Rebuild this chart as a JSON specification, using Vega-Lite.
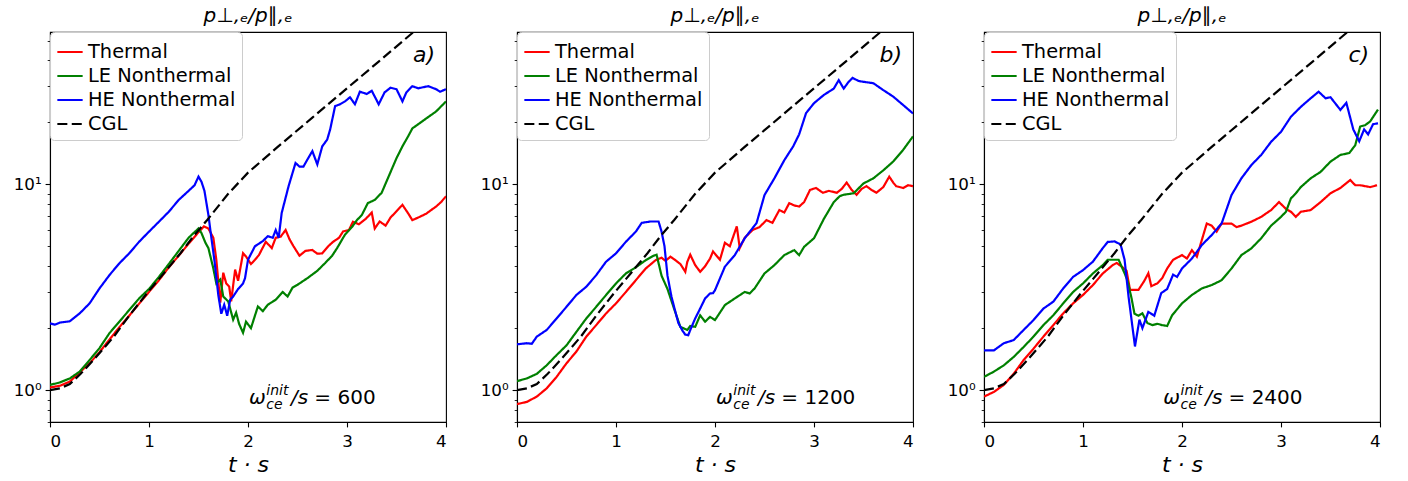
{
"$schema":"https://vega.github.io/schema/vega-lite/v6.json",
"background":"white",
"padding":{"left":12,"top":4,"right":5,"bottom":5},
"config":{
 "font":"DejaVu Sans",
 "view":{"stroke":"black","strokeWidth":1.1},
 "concat":{"spacing":31},
 "axis":{"domainColor":"black","domainWidth":1.1,"tickColor":"black","tickWidth":1.1,"tickSize":4.9,"labelColor":"black","labelFont":"DejaVu Sans","labelFontSize":16.7,"labelPadding":4,"grid":false,"titleFont":"DejaVu Sans","titleFontWeight":"normal","titleColor":"black"},
 "legend":{"orient":"top-left","offset":0,"padding":6,"rowPadding":0,"labelFont":"DejaVu Sans","labelFontSize":19.4,"labelColor":"black","symbolType":"stroke","symbolSize":640,"symbolStrokeWidth":2.2,"labelOffset":4,"strokeColor":"#cccccc","fillColor":"rgba(255,255,255,0.8)","cornerRadius":4,"labelLimit":400},
 "title":{"font":"DejaVu Sans","fontSize":20,"fontStyle":"italic","fontWeight":"normal","color":"black","offset":6}
},
"resolve":{"scale":{"color":"independent","strokeDash":"independent"},"legend":{"color":"independent","strokeDash":"independent"}},
"datasets":{
"notes":[
{"panel":"a","kind":"it","t":2.01,"v":0.855,"label":"ω"},
{"panel":"a","kind":"sub","t":2.185,"v":0.952,"label":"init"},
{"panel":"a","kind":"sub","t":2.185,"v":0.808,"label":"ce"},
{"panel":"a","kind":"it","t":2.434,"v":0.855,"label":"/s"},
{"panel":"a","kind":"num","t":2.67,"v":0.855,"label":"= 600"},
{"panel":"a","kind":"tag","t":3.89,"v":39.5,"label":"a)"},
{"panel":"b","kind":"it","t":2.01,"v":0.855,"label":"ω"},
{"panel":"b","kind":"sub","t":2.185,"v":0.952,"label":"init"},
{"panel":"b","kind":"sub","t":2.185,"v":0.808,"label":"ce"},
{"panel":"b","kind":"it","t":2.434,"v":0.855,"label":"/s"},
{"panel":"b","kind":"num","t":2.67,"v":0.855,"label":"= 1200"},
{"panel":"b","kind":"tag","t":3.89,"v":39.5,"label":"b)"},
{"panel":"c","kind":"it","t":1.81,"v":0.855,"label":"ω"},
{"panel":"c","kind":"sub","t":1.985,"v":0.952,"label":"init"},
{"panel":"c","kind":"sub","t":1.985,"v":0.808,"label":"ce"},
{"panel":"c","kind":"it","t":2.234,"v":0.855,"label":"/s"},
{"panel":"c","kind":"num","t":2.47,"v":0.855,"label":"= 2400"},
{"panel":"c","kind":"tag","t":3.89,"v":39.5,"label":"c)"}
],
"curves":[
{"panel":"a","series":"Thermal","t":0,"v":1.03},{"panel":"a","series":"Thermal","t":0.1,"v":1.05},{"panel":"a","series":"Thermal","t":0.2,"v":1.1},{"panel":"a","series":"Thermal","t":0.3,"v":1.22},{"panel":"a","series":"Thermal","t":0.4,"v":1.35},{"panel":"a","series":"Thermal","t":0.5,"v":1.53},{"panel":"a","series":"Thermal","t":0.6,"v":1.76},{"panel":"a","series":"Thermal","t":0.7,"v":2.02},{"panel":"a","series":"Thermal","t":0.8,"v":2.3},{"panel":"a","series":"Thermal","t":0.9,"v":2.63},{"panel":"a","series":"Thermal","t":1.0,"v":3.0},{"panel":"a","series":"Thermal","t":1.1,"v":3.42},{"panel":"a","series":"Thermal","t":1.2,"v":3.95},{"panel":"a","series":"Thermal","t":1.3,"v":4.5},{"panel":"a","series":"Thermal","t":1.4,"v":5.15},{"panel":"a","series":"Thermal","t":1.5,"v":5.85},{"panel":"a","series":"Thermal","t":1.555,"v":6.25},{"panel":"a","series":"Thermal","t":1.6,"v":6.1},{"panel":"a","series":"Thermal","t":1.65,"v":5.5},{"panel":"a","series":"Thermal","t":1.68,"v":4.3},{"panel":"a","series":"Thermal","t":1.72,"v":2.66},{"panel":"a","series":"Thermal","t":1.75,"v":3.72},{"panel":"a","series":"Thermal","t":1.78,"v":3.3},{"panel":"a","series":"Thermal","t":1.81,"v":3.19},{"panel":"a","series":"Thermal","t":1.83,"v":2.7},{"panel":"a","series":"Thermal","t":1.87,"v":3.85},{"panel":"a","series":"Thermal","t":1.9,"v":3.4},{"panel":"a","series":"Thermal","t":1.95,"v":4.63},{"panel":"a","series":"Thermal","t":1.98,"v":4.46},{"panel":"a","series":"Thermal","t":2.03,"v":4.1},{"panel":"a","series":"Thermal","t":2.07,"v":4.3},{"panel":"a","series":"Thermal","t":2.11,"v":4.53},{"panel":"a","series":"Thermal","t":2.18,"v":5.26},{"panel":"a","series":"Thermal","t":2.24,"v":4.9},{"panel":"a","series":"Thermal","t":2.28,"v":5.5},{"panel":"a","series":"Thermal","t":2.33,"v":5.57},{"panel":"a","series":"Thermal","t":2.38,"v":6.0},{"panel":"a","series":"Thermal","t":2.42,"v":5.4},{"panel":"a","series":"Thermal","t":2.46,"v":5.0},{"panel":"a","series":"Thermal","t":2.52,"v":4.5},{"panel":"a","series":"Thermal","t":2.58,"v":4.75},{"panel":"a","series":"Thermal","t":2.65,"v":4.8},{"panel":"a","series":"Thermal","t":2.7,"v":4.6},{"panel":"a","series":"Thermal","t":2.75,"v":4.62},{"panel":"a","series":"Thermal","t":2.81,"v":5.0},{"panel":"a","series":"Thermal","t":2.86,"v":5.26},{"panel":"a","series":"Thermal","t":2.92,"v":5.5},{"panel":"a","series":"Thermal","t":2.96,"v":5.9},{"panel":"a","series":"Thermal","t":3.02,"v":6.0},{"panel":"a","series":"Thermal","t":3.06,"v":6.58},{"panel":"a","series":"Thermal","t":3.12,"v":6.4},{"panel":"a","series":"Thermal","t":3.19,"v":6.8},{"panel":"a","series":"Thermal","t":3.25,"v":7.3},{"panel":"a","series":"Thermal","t":3.28,"v":6.1},{"panel":"a","series":"Thermal","t":3.33,"v":6.6},{"panel":"a","series":"Thermal","t":3.39,"v":6.3},{"panel":"a","series":"Thermal","t":3.44,"v":6.9},{"panel":"a","series":"Thermal","t":3.5,"v":7.4},{"panel":"a","series":"Thermal","t":3.56,"v":7.95},{"panel":"a","series":"Thermal","t":3.62,"v":7.2},{"panel":"a","series":"Thermal","t":3.66,"v":6.7},{"panel":"a","series":"Thermal","t":3.72,"v":6.9},{"panel":"a","series":"Thermal","t":3.8,"v":7.2},{"panel":"a","series":"Thermal","t":3.85,"v":7.5},{"panel":"a","series":"Thermal","t":3.9,"v":7.8},{"panel":"a","series":"Thermal","t":3.95,"v":8.2},{"panel":"a","series":"Thermal","t":4.0,"v":8.75},
{"panel":"a","series":"LE Nonthermal","t":0,"v":1.06},{"panel":"a","series":"LE Nonthermal","t":0.1,"v":1.09},{"panel":"a","series":"LE Nonthermal","t":0.2,"v":1.14},{"panel":"a","series":"LE Nonthermal","t":0.3,"v":1.23},{"panel":"a","series":"LE Nonthermal","t":0.4,"v":1.4},{"panel":"a","series":"LE Nonthermal","t":0.5,"v":1.6},{"panel":"a","series":"LE Nonthermal","t":0.6,"v":1.89},{"panel":"a","series":"LE Nonthermal","t":0.7,"v":2.15},{"panel":"a","series":"LE Nonthermal","t":0.8,"v":2.45},{"panel":"a","series":"LE Nonthermal","t":0.9,"v":2.79},{"panel":"a","series":"LE Nonthermal","t":1.0,"v":3.1},{"panel":"a","series":"LE Nonthermal","t":1.1,"v":3.55},{"panel":"a","series":"LE Nonthermal","t":1.2,"v":4.1},{"panel":"a","series":"LE Nonthermal","t":1.3,"v":4.75},{"panel":"a","series":"LE Nonthermal","t":1.4,"v":5.5},{"panel":"a","series":"LE Nonthermal","t":1.45,"v":5.8},{"panel":"a","series":"LE Nonthermal","t":1.5,"v":6.1},{"panel":"a","series":"LE Nonthermal","t":1.53,"v":5.8},{"panel":"a","series":"LE Nonthermal","t":1.57,"v":5.2},{"panel":"a","series":"LE Nonthermal","t":1.6,"v":4.9},{"panel":"a","series":"LE Nonthermal","t":1.65,"v":3.9},{"panel":"a","series":"LE Nonthermal","t":1.68,"v":3.3},{"panel":"a","series":"LE Nonthermal","t":1.72,"v":3.45},{"panel":"a","series":"LE Nonthermal","t":1.75,"v":2.85},{"panel":"a","series":"LE Nonthermal","t":1.8,"v":2.7},{"panel":"a","series":"LE Nonthermal","t":1.85,"v":2.2},{"panel":"a","series":"LE Nonthermal","t":1.88,"v":2.38},{"panel":"a","series":"LE Nonthermal","t":1.91,"v":2.1},{"panel":"a","series":"LE Nonthermal","t":1.95,"v":1.9},{"panel":"a","series":"LE Nonthermal","t":1.98,"v":2.15},{"panel":"a","series":"LE Nonthermal","t":2.03,"v":2.0},{"panel":"a","series":"LE Nonthermal","t":2.07,"v":2.3},{"panel":"a","series":"LE Nonthermal","t":2.1,"v":2.55},{"panel":"a","series":"LE Nonthermal","t":2.15,"v":2.42},{"panel":"a","series":"LE Nonthermal","t":2.2,"v":2.6},{"panel":"a","series":"LE Nonthermal","t":2.28,"v":2.75},{"panel":"a","series":"LE Nonthermal","t":2.35,"v":3.0},{"panel":"a","series":"LE Nonthermal","t":2.4,"v":2.85},{"panel":"a","series":"LE Nonthermal","t":2.45,"v":3.15},{"panel":"a","series":"LE Nonthermal","t":2.5,"v":3.25},{"panel":"a","series":"LE Nonthermal","t":2.6,"v":3.5},{"panel":"a","series":"LE Nonthermal","t":2.7,"v":3.8},{"panel":"a","series":"LE Nonthermal","t":2.78,"v":4.15},{"panel":"a","series":"LE Nonthermal","t":2.85,"v":4.5},{"panel":"a","series":"LE Nonthermal","t":2.9,"v":4.9},{"panel":"a","series":"LE Nonthermal","t":2.98,"v":5.7},{"panel":"a","series":"LE Nonthermal","t":3.05,"v":6.2},{"panel":"a","series":"LE Nonthermal","t":3.1,"v":6.7},{"panel":"a","series":"LE Nonthermal","t":3.15,"v":7.1},{"panel":"a","series":"LE Nonthermal","t":3.21,"v":8.1},{"panel":"a","series":"LE Nonthermal","t":3.28,"v":8.4},{"panel":"a","series":"LE Nonthermal","t":3.35,"v":9.1},{"panel":"a","series":"LE Nonthermal","t":3.42,"v":10.9},{"panel":"a","series":"LE Nonthermal","t":3.5,"v":13.4},{"panel":"a","series":"LE Nonthermal","t":3.56,"v":15.3},{"panel":"a","series":"LE Nonthermal","t":3.62,"v":17.2},{"panel":"a","series":"LE Nonthermal","t":3.66,"v":18.7},{"panel":"a","series":"LE Nonthermal","t":3.72,"v":19.6},{"panel":"a","series":"LE Nonthermal","t":3.8,"v":20.9},{"panel":"a","series":"LE Nonthermal","t":3.9,"v":22.6},{"panel":"a","series":"LE Nonthermal","t":4.0,"v":25.3},
{"panel":"a","series":"HE Nonthermal","t":0,"v":2.11},{"panel":"a","series":"HE Nonthermal","t":0.05,"v":2.08},{"panel":"a","series":"HE Nonthermal","t":0.1,"v":2.13},{"panel":"a","series":"HE Nonthermal","t":0.2,"v":2.16},{"panel":"a","series":"HE Nonthermal","t":0.3,"v":2.36},{"panel":"a","series":"HE Nonthermal","t":0.4,"v":2.64},{"panel":"a","series":"HE Nonthermal","t":0.5,"v":3.12},{"panel":"a","series":"HE Nonthermal","t":0.6,"v":3.62},{"panel":"a","series":"HE Nonthermal","t":0.7,"v":4.13},{"panel":"a","series":"HE Nonthermal","t":0.8,"v":4.62},{"panel":"a","series":"HE Nonthermal","t":0.9,"v":5.26},{"panel":"a","series":"HE Nonthermal","t":1.0,"v":5.89},{"panel":"a","series":"HE Nonthermal","t":1.1,"v":6.58},{"panel":"a","series":"HE Nonthermal","t":1.2,"v":7.36},{"panel":"a","series":"HE Nonthermal","t":1.3,"v":8.4},{"panel":"a","series":"HE Nonthermal","t":1.4,"v":9.3},{"panel":"a","series":"HE Nonthermal","t":1.46,"v":9.9},{"panel":"a","series":"HE Nonthermal","t":1.5,"v":10.9},{"panel":"a","series":"HE Nonthermal","t":1.53,"v":10.3},{"panel":"a","series":"HE Nonthermal","t":1.56,"v":9.3},{"panel":"a","series":"HE Nonthermal","t":1.6,"v":7.1},{"panel":"a","series":"HE Nonthermal","t":1.63,"v":5.5},{"panel":"a","series":"HE Nonthermal","t":1.66,"v":4.3},{"panel":"a","series":"HE Nonthermal","t":1.7,"v":2.9},{"panel":"a","series":"HE Nonthermal","t":1.73,"v":2.35},{"panel":"a","series":"HE Nonthermal","t":1.76,"v":2.6},{"panel":"a","series":"HE Nonthermal","t":1.79,"v":2.3},{"panel":"a","series":"HE Nonthermal","t":1.82,"v":2.75},{"panel":"a","series":"HE Nonthermal","t":1.85,"v":2.85},{"panel":"a","series":"HE Nonthermal","t":1.9,"v":3.1},{"panel":"a","series":"HE Nonthermal","t":1.95,"v":3.3},{"panel":"a","series":"HE Nonthermal","t":1.97,"v":3.5},{"panel":"a","series":"HE Nonthermal","t":2.0,"v":4.3},{"panel":"a","series":"HE Nonthermal","t":2.07,"v":5.0},{"panel":"a","series":"HE Nonthermal","t":2.15,"v":5.3},{"panel":"a","series":"HE Nonthermal","t":2.2,"v":5.6},{"panel":"a","series":"HE Nonthermal","t":2.25,"v":5.5},{"panel":"a","series":"HE Nonthermal","t":2.28,"v":6.0},{"panel":"a","series":"HE Nonthermal","t":2.31,"v":5.5},{"panel":"a","series":"HE Nonthermal","t":2.34,"v":7.25},{"panel":"a","series":"HE Nonthermal","t":2.41,"v":9.8},{"panel":"a","series":"HE Nonthermal","t":2.48,"v":12.7},{"panel":"a","series":"HE Nonthermal","t":2.52,"v":12.2},{"panel":"a","series":"HE Nonthermal","t":2.56,"v":12.2},{"panel":"a","series":"HE Nonthermal","t":2.6,"v":13.2},{"panel":"a","series":"HE Nonthermal","t":2.65,"v":14.5},{"panel":"a","series":"HE Nonthermal","t":2.7,"v":12.5},{"panel":"a","series":"HE Nonthermal","t":2.75,"v":15.3},{"panel":"a","series":"HE Nonthermal","t":2.8,"v":16.5},{"panel":"a","series":"HE Nonthermal","t":2.83,"v":18.5},{"panel":"a","series":"HE Nonthermal","t":2.88,"v":24},{"panel":"a","series":"HE Nonthermal","t":2.93,"v":24.5},{"panel":"a","series":"HE Nonthermal","t":2.98,"v":25.3},{"panel":"a","series":"HE Nonthermal","t":3.03,"v":26.5},{"panel":"a","series":"HE Nonthermal","t":3.08,"v":24.5},{"panel":"a","series":"HE Nonthermal","t":3.13,"v":28.2},{"panel":"a","series":"HE Nonthermal","t":3.2,"v":27.5},{"panel":"a","series":"HE Nonthermal","t":3.25,"v":28.5},{"panel":"a","series":"HE Nonthermal","t":3.32,"v":24.5},{"panel":"a","series":"HE Nonthermal","t":3.38,"v":28},{"panel":"a","series":"HE Nonthermal","t":3.44,"v":29.5},{"panel":"a","series":"HE Nonthermal","t":3.5,"v":29},{"panel":"a","series":"HE Nonthermal","t":3.56,"v":25.3},{"panel":"a","series":"HE Nonthermal","t":3.6,"v":28},{"panel":"a","series":"HE Nonthermal","t":3.66,"v":30},{"panel":"a","series":"HE Nonthermal","t":3.72,"v":29.3},{"panel":"a","series":"HE Nonthermal","t":3.82,"v":30},{"panel":"a","series":"HE Nonthermal","t":3.9,"v":29},{"panel":"a","series":"HE Nonthermal","t":3.94,"v":28.2},{"panel":"a","series":"HE Nonthermal","t":4.0,"v":29},
{"panel":"b","series":"Thermal","t":0,"v":0.855},{"panel":"b","series":"Thermal","t":0.1,"v":0.877},{"panel":"b","series":"Thermal","t":0.2,"v":0.93},{"panel":"b","series":"Thermal","t":0.3,"v":1.02},{"panel":"b","series":"Thermal","t":0.4,"v":1.16},{"panel":"b","series":"Thermal","t":0.5,"v":1.35},{"panel":"b","series":"Thermal","t":0.6,"v":1.54},{"panel":"b","series":"Thermal","t":0.7,"v":1.82},{"panel":"b","series":"Thermal","t":0.8,"v":2.07},{"panel":"b","series":"Thermal","t":0.9,"v":2.36},{"panel":"b","series":"Thermal","t":1.0,"v":2.64},{"panel":"b","series":"Thermal","t":1.1,"v":3.0},{"panel":"b","series":"Thermal","t":1.2,"v":3.42},{"panel":"b","series":"Thermal","t":1.3,"v":3.9},{"panel":"b","series":"Thermal","t":1.4,"v":4.28},{"panel":"b","series":"Thermal","t":1.46,"v":4.4},{"panel":"b","series":"Thermal","t":1.5,"v":4.25},{"panel":"b","series":"Thermal","t":1.55,"v":4.45},{"panel":"b","series":"Thermal","t":1.6,"v":4.28},{"panel":"b","series":"Thermal","t":1.65,"v":4.1},{"panel":"b","series":"Thermal","t":1.7,"v":3.76},{"panel":"b","series":"Thermal","t":1.72,"v":4.2},{"panel":"b","series":"Thermal","t":1.75,"v":4.55},{"panel":"b","series":"Thermal","t":1.8,"v":4.05},{"panel":"b","series":"Thermal","t":1.85,"v":3.76},{"panel":"b","series":"Thermal","t":1.9,"v":4.0},{"panel":"b","series":"Thermal","t":1.95,"v":4.36},{"panel":"b","series":"Thermal","t":1.98,"v":4.72},{"panel":"b","series":"Thermal","t":2.05,"v":4.3},{"panel":"b","series":"Thermal","t":2.1,"v":5.2},{"panel":"b","series":"Thermal","t":2.15,"v":5.0},{"panel":"b","series":"Thermal","t":2.22,"v":6.25},{"panel":"b","series":"Thermal","t":2.25,"v":4.9},{"panel":"b","series":"Thermal","t":2.3,"v":5.5},{"panel":"b","series":"Thermal","t":2.38,"v":6.0},{"panel":"b","series":"Thermal","t":2.45,"v":6.2},{"panel":"b","series":"Thermal","t":2.52,"v":6.7},{"panel":"b","series":"Thermal","t":2.58,"v":6.5},{"panel":"b","series":"Thermal","t":2.65,"v":7.5},{"panel":"b","series":"Thermal","t":2.7,"v":7.3},{"panel":"b","series":"Thermal","t":2.75,"v":8.1},{"panel":"b","series":"Thermal","t":2.8,"v":7.9},{"panel":"b","series":"Thermal","t":2.85,"v":7.8},{"panel":"b","series":"Thermal","t":2.9,"v":8.2},{"panel":"b","series":"Thermal","t":2.96,"v":9.4},{"panel":"b","series":"Thermal","t":3.02,"v":9.6},{"panel":"b","series":"Thermal","t":3.09,"v":9.1},{"panel":"b","series":"Thermal","t":3.15,"v":9.3},{"panel":"b","series":"Thermal","t":3.23,"v":9.1},{"panel":"b","series":"Thermal","t":3.28,"v":9.5},{"panel":"b","series":"Thermal","t":3.33,"v":10.2},{"panel":"b","series":"Thermal","t":3.38,"v":9.4},{"panel":"b","series":"Thermal","t":3.43,"v":8.9},{"panel":"b","series":"Thermal","t":3.48,"v":9.5},{"panel":"b","series":"Thermal","t":3.53,"v":9.8},{"panel":"b","series":"Thermal","t":3.58,"v":9.4},{"panel":"b","series":"Thermal","t":3.63,"v":9.1},{"panel":"b","series":"Thermal","t":3.7,"v":9.7},{"panel":"b","series":"Thermal","t":3.76,"v":10.9},{"panel":"b","series":"Thermal","t":3.8,"v":10.2},{"panel":"b","series":"Thermal","t":3.83,"v":9.8},{"panel":"b","series":"Thermal","t":3.9,"v":9.6},{"panel":"b","series":"Thermal","t":3.95,"v":9.9},{"panel":"b","series":"Thermal","t":4.0,"v":9.8},
{"panel":"b","series":"LE Nonthermal","t":0,"v":1.106},{"panel":"b","series":"LE Nonthermal","t":0.1,"v":1.14},{"panel":"b","series":"LE Nonthermal","t":0.2,"v":1.2},{"panel":"b","series":"LE Nonthermal","t":0.3,"v":1.32},{"panel":"b","series":"LE Nonthermal","t":0.4,"v":1.48},{"panel":"b","series":"LE Nonthermal","t":0.5,"v":1.65},{"panel":"b","series":"LE Nonthermal","t":0.6,"v":1.92},{"panel":"b","series":"LE Nonthermal","t":0.7,"v":2.23},{"panel":"b","series":"LE Nonthermal","t":0.8,"v":2.54},{"panel":"b","series":"LE Nonthermal","t":0.9,"v":2.9},{"panel":"b","series":"LE Nonthermal","t":1.0,"v":3.3},{"panel":"b","series":"LE Nonthermal","t":1.1,"v":3.69},{"panel":"b","series":"LE Nonthermal","t":1.2,"v":3.95},{"panel":"b","series":"LE Nonthermal","t":1.3,"v":4.28},{"panel":"b","series":"LE Nonthermal","t":1.38,"v":4.5},{"panel":"b","series":"LE Nonthermal","t":1.41,"v":4.55},{"panel":"b","series":"LE Nonthermal","t":1.46,"v":3.6},{"panel":"b","series":"LE Nonthermal","t":1.52,"v":3.1},{"panel":"b","series":"LE Nonthermal","t":1.59,"v":2.46},{"panel":"b","series":"LE Nonthermal","t":1.65,"v":2.03},{"panel":"b","series":"LE Nonthermal","t":1.72,"v":1.96},{"panel":"b","series":"LE Nonthermal","t":1.75,"v":2.05},{"panel":"b","series":"LE Nonthermal","t":1.8,"v":2.03},{"panel":"b","series":"LE Nonthermal","t":1.85,"v":2.31},{"panel":"b","series":"LE Nonthermal","t":1.9,"v":2.15},{"panel":"b","series":"LE Nonthermal","t":1.95,"v":2.27},{"panel":"b","series":"LE Nonthermal","t":2.0,"v":2.19},{"panel":"b","series":"LE Nonthermal","t":2.1,"v":2.59},{"panel":"b","series":"LE Nonthermal","t":2.2,"v":2.79},{"panel":"b","series":"LE Nonthermal","t":2.3,"v":3.0},{"panel":"b","series":"LE Nonthermal","t":2.35,"v":2.95},{"panel":"b","series":"LE Nonthermal","t":2.4,"v":3.12},{"panel":"b","series":"LE Nonthermal","t":2.5,"v":3.69},{"panel":"b","series":"LE Nonthermal","t":2.6,"v":4.05},{"panel":"b","series":"LE Nonthermal","t":2.7,"v":4.53},{"panel":"b","series":"LE Nonthermal","t":2.8,"v":4.79},{"panel":"b","series":"LE Nonthermal","t":2.85,"v":4.53},{"panel":"b","series":"LE Nonthermal","t":2.9,"v":4.97},{"panel":"b","series":"LE Nonthermal","t":3.0,"v":5.47},{"panel":"b","series":"LE Nonthermal","t":3.1,"v":6.8},{"panel":"b","series":"LE Nonthermal","t":3.2,"v":8.2},{"panel":"b","series":"LE Nonthermal","t":3.26,"v":8.76},{"panel":"b","series":"LE Nonthermal","t":3.3,"v":8.9},{"panel":"b","series":"LE Nonthermal","t":3.4,"v":9.05},{"panel":"b","series":"LE Nonthermal","t":3.5,"v":10.1},{"panel":"b","series":"LE Nonthermal","t":3.6,"v":10.7},{"panel":"b","series":"LE Nonthermal","t":3.7,"v":11.7},{"panel":"b","series":"LE Nonthermal","t":3.8,"v":12.9},{"panel":"b","series":"LE Nonthermal","t":3.9,"v":14.7},{"panel":"b","series":"LE Nonthermal","t":4.0,"v":17.1},
{"panel":"b","series":"HE Nonthermal","t":0,"v":1.67},{"panel":"b","series":"HE Nonthermal","t":0.1,"v":1.69},{"panel":"b","series":"HE Nonthermal","t":0.15,"v":1.68},{"panel":"b","series":"HE Nonthermal","t":0.2,"v":1.82},{"panel":"b","series":"HE Nonthermal","t":0.3,"v":1.96},{"panel":"b","series":"HE Nonthermal","t":0.4,"v":2.23},{"panel":"b","series":"HE Nonthermal","t":0.5,"v":2.54},{"panel":"b","series":"HE Nonthermal","t":0.6,"v":2.9},{"panel":"b","series":"HE Nonthermal","t":0.7,"v":3.18},{"panel":"b","series":"HE Nonthermal","t":0.8,"v":3.62},{"panel":"b","series":"HE Nonthermal","t":0.9,"v":4.21},{"panel":"b","series":"HE Nonthermal","t":1.0,"v":4.62},{"panel":"b","series":"HE Nonthermal","t":1.1,"v":5.26},{"panel":"b","series":"HE Nonthermal","t":1.2,"v":5.89},{"panel":"b","series":"HE Nonthermal","t":1.26,"v":6.5},{"panel":"b","series":"HE Nonthermal","t":1.35,"v":6.6},{"panel":"b","series":"HE Nonthermal","t":1.43,"v":6.6},{"panel":"b","series":"HE Nonthermal","t":1.46,"v":5.9},{"panel":"b","series":"HE Nonthermal","t":1.49,"v":5.0},{"panel":"b","series":"HE Nonthermal","t":1.52,"v":3.6},{"panel":"b","series":"HE Nonthermal","t":1.56,"v":2.85},{"panel":"b","series":"HE Nonthermal","t":1.6,"v":2.4},{"panel":"b","series":"HE Nonthermal","t":1.63,"v":2.12},{"panel":"b","series":"HE Nonthermal","t":1.67,"v":1.95},{"panel":"b","series":"HE Nonthermal","t":1.7,"v":1.86},{"panel":"b","series":"HE Nonthermal","t":1.73,"v":1.85},{"panel":"b","series":"HE Nonthermal","t":1.75,"v":1.96},{"panel":"b","series":"HE Nonthermal","t":1.8,"v":2.23},{"panel":"b","series":"HE Nonthermal","t":1.85,"v":2.49},{"panel":"b","series":"HE Nonthermal","t":1.9,"v":2.79},{"panel":"b","series":"HE Nonthermal","t":1.95,"v":2.95},{"panel":"b","series":"HE Nonthermal","t":1.98,"v":2.96},{"panel":"b","series":"HE Nonthermal","t":2.0,"v":3.06},{"panel":"b","series":"HE Nonthermal","t":2.1,"v":3.98},{"panel":"b","series":"HE Nonthermal","t":2.2,"v":4.53},{"panel":"b","series":"HE Nonthermal","t":2.3,"v":5.47},{"panel":"b","series":"HE Nonthermal","t":2.42,"v":6.49},{"panel":"b","series":"HE Nonthermal","t":2.5,"v":8.87},{"panel":"b","series":"HE Nonthermal","t":2.6,"v":10.7},{"panel":"b","series":"HE Nonthermal","t":2.7,"v":13.1},{"panel":"b","series":"HE Nonthermal","t":2.79,"v":15.3},{"panel":"b","series":"HE Nonthermal","t":2.85,"v":17.5},{"panel":"b","series":"HE Nonthermal","t":2.92,"v":22.2},{"panel":"b","series":"HE Nonthermal","t":3.0,"v":24.8},{"panel":"b","series":"HE Nonthermal","t":3.1,"v":27.2},{"panel":"b","series":"HE Nonthermal","t":3.2,"v":29.2},{"panel":"b","series":"HE Nonthermal","t":3.25,"v":32.1},{"panel":"b","series":"HE Nonthermal","t":3.3,"v":29.2},{"panel":"b","series":"HE Nonthermal","t":3.35,"v":31.5},{"panel":"b","series":"HE Nonthermal","t":3.39,"v":32.9},{"panel":"b","series":"HE Nonthermal","t":3.45,"v":31.8},{"panel":"b","series":"HE Nonthermal","t":3.5,"v":31.5},{"panel":"b","series":"HE Nonthermal","t":3.6,"v":31},{"panel":"b","series":"HE Nonthermal","t":3.7,"v":28.7},{"panel":"b","series":"HE Nonthermal","t":3.8,"v":26.7},{"panel":"b","series":"HE Nonthermal","t":3.9,"v":24.3},{"panel":"b","series":"HE Nonthermal","t":4.0,"v":22.1},
{"panel":"c","series":"Thermal","t":0,"v":0.93},{"panel":"c","series":"Thermal","t":0.1,"v":0.98},{"panel":"c","series":"Thermal","t":0.2,"v":1.06},{"panel":"c","series":"Thermal","t":0.3,"v":1.2},{"panel":"c","series":"Thermal","t":0.4,"v":1.4},{"panel":"c","series":"Thermal","t":0.5,"v":1.59},{"panel":"c","series":"Thermal","t":0.6,"v":1.82},{"panel":"c","series":"Thermal","t":0.7,"v":2.07},{"panel":"c","series":"Thermal","t":0.8,"v":2.36},{"panel":"c","series":"Thermal","t":0.9,"v":2.64},{"panel":"c","series":"Thermal","t":1.0,"v":2.9},{"panel":"c","series":"Thermal","t":1.1,"v":3.24},{"panel":"c","series":"Thermal","t":1.2,"v":3.69},{"panel":"c","series":"Thermal","t":1.3,"v":4.05},{"panel":"c","series":"Thermal","t":1.34,"v":4.15},{"panel":"c","series":"Thermal","t":1.4,"v":3.95},{"panel":"c","series":"Thermal","t":1.44,"v":3.8},{"panel":"c","series":"Thermal","t":1.475,"v":3.07},{"panel":"c","series":"Thermal","t":1.56,"v":3.07},{"panel":"c","series":"Thermal","t":1.62,"v":3.4},{"panel":"c","series":"Thermal","t":1.66,"v":3.7},{"panel":"c","series":"Thermal","t":1.69,"v":3.2},{"panel":"c","series":"Thermal","t":1.75,"v":3.3},{"panel":"c","series":"Thermal","t":1.8,"v":3.5},{"panel":"c","series":"Thermal","t":1.85,"v":3.9},{"panel":"c","series":"Thermal","t":1.91,"v":4.3},{"panel":"c","series":"Thermal","t":1.95,"v":4.4},{"panel":"c","series":"Thermal","t":2.0,"v":4.53},{"panel":"c","series":"Thermal","t":2.05,"v":4.36},{"panel":"c","series":"Thermal","t":2.1,"v":4.79},{"panel":"c","series":"Thermal","t":2.15,"v":4.45},{"panel":"c","series":"Thermal","t":2.2,"v":5.36},{"panel":"c","series":"Thermal","t":2.25,"v":6.45},{"panel":"c","series":"Thermal","t":2.3,"v":6.3},{"panel":"c","series":"Thermal","t":2.35,"v":5.89},{"panel":"c","series":"Thermal","t":2.4,"v":6.45},{"panel":"c","series":"Thermal","t":2.5,"v":6.45},{"panel":"c","series":"Thermal","t":2.55,"v":6.2},{"panel":"c","series":"Thermal","t":2.6,"v":6.3},{"panel":"c","series":"Thermal","t":2.7,"v":6.58},{"panel":"c","series":"Thermal","t":2.8,"v":6.95},{"panel":"c","series":"Thermal","t":2.9,"v":7.5},{"panel":"c","series":"Thermal","t":2.98,"v":8.2},{"panel":"c","series":"Thermal","t":3.05,"v":7.6},{"panel":"c","series":"Thermal","t":3.1,"v":7.36},{"panel":"c","series":"Thermal","t":3.15,"v":6.95},{"panel":"c","series":"Thermal","t":3.2,"v":7.36},{"panel":"c","series":"Thermal","t":3.3,"v":7.5},{"panel":"c","series":"Thermal","t":3.4,"v":8.2},{"panel":"c","series":"Thermal","t":3.5,"v":9.05},{"panel":"c","series":"Thermal","t":3.6,"v":9.6},{"panel":"c","series":"Thermal","t":3.7,"v":10.5},{"panel":"c","series":"Thermal","t":3.75,"v":9.9},{"panel":"c","series":"Thermal","t":3.8,"v":9.9},{"panel":"c","series":"Thermal","t":3.9,"v":9.7},{"panel":"c","series":"Thermal","t":3.97,"v":9.9},
{"panel":"c","series":"LE Nonthermal","t":0,"v":1.16},{"panel":"c","series":"LE Nonthermal","t":0.1,"v":1.23},{"panel":"c","series":"LE Nonthermal","t":0.2,"v":1.32},{"panel":"c","series":"LE Nonthermal","t":0.3,"v":1.45},{"panel":"c","series":"LE Nonthermal","t":0.4,"v":1.62},{"panel":"c","series":"LE Nonthermal","t":0.5,"v":1.82},{"panel":"c","series":"LE Nonthermal","t":0.6,"v":2.07},{"panel":"c","series":"LE Nonthermal","t":0.7,"v":2.31},{"panel":"c","series":"LE Nonthermal","t":0.8,"v":2.64},{"panel":"c","series":"LE Nonthermal","t":0.9,"v":3.0},{"panel":"c","series":"LE Nonthermal","t":1.0,"v":3.3},{"panel":"c","series":"LE Nonthermal","t":1.1,"v":3.69},{"panel":"c","series":"LE Nonthermal","t":1.2,"v":4.05},{"panel":"c","series":"LE Nonthermal","t":1.25,"v":4.3},{"panel":"c","series":"LE Nonthermal","t":1.36,"v":4.3},{"panel":"c","series":"LE Nonthermal","t":1.42,"v":3.7},{"panel":"c","series":"LE Nonthermal","t":1.45,"v":3.4},{"panel":"c","series":"LE Nonthermal","t":1.49,"v":2.8},{"panel":"c","series":"LE Nonthermal","t":1.52,"v":2.35},{"panel":"c","series":"LE Nonthermal","t":1.56,"v":2.3},{"panel":"c","series":"LE Nonthermal","t":1.6,"v":2.36},{"panel":"c","series":"LE Nonthermal","t":1.65,"v":2.12},{"panel":"c","series":"LE Nonthermal","t":1.7,"v":2.07},{"panel":"c","series":"LE Nonthermal","t":1.75,"v":2.1},{"panel":"c","series":"LE Nonthermal","t":1.8,"v":2.07},{"panel":"c","series":"LE Nonthermal","t":1.85,"v":2.05},{"panel":"c","series":"LE Nonthermal","t":1.9,"v":2.31},{"panel":"c","series":"LE Nonthermal","t":2.0,"v":2.64},{"panel":"c","series":"LE Nonthermal","t":2.1,"v":2.9},{"panel":"c","series":"LE Nonthermal","t":2.2,"v":3.12},{"panel":"c","series":"LE Nonthermal","t":2.3,"v":3.24},{"panel":"c","series":"LE Nonthermal","t":2.4,"v":3.42},{"panel":"c","series":"LE Nonthermal","t":2.5,"v":3.9},{"panel":"c","series":"LE Nonthermal","t":2.6,"v":4.53},{"panel":"c","series":"LE Nonthermal","t":2.7,"v":4.88},{"panel":"c","series":"LE Nonthermal","t":2.8,"v":5.47},{"panel":"c","series":"LE Nonthermal","t":2.9,"v":6.3},{"panel":"c","series":"LE Nonthermal","t":3.0,"v":6.95},{"panel":"c","series":"LE Nonthermal","t":3.05,"v":7.36},{"panel":"c","series":"LE Nonthermal","t":3.1,"v":8.54},{"panel":"c","series":"LE Nonthermal","t":3.15,"v":9.05},{"panel":"c","series":"LE Nonthermal","t":3.2,"v":9.7},{"panel":"c","series":"LE Nonthermal","t":3.3,"v":10.7},{"panel":"c","series":"LE Nonthermal","t":3.4,"v":11.5},{"panel":"c","series":"LE Nonthermal","t":3.5,"v":12.9},{"panel":"c","series":"LE Nonthermal","t":3.6,"v":13.9},{"panel":"c","series":"LE Nonthermal","t":3.69,"v":14.2},{"panel":"c","series":"LE Nonthermal","t":3.75,"v":15.5},{"panel":"c","series":"LE Nonthermal","t":3.8,"v":19.1},{"panel":"c","series":"LE Nonthermal","t":3.85,"v":19.4},{"panel":"c","series":"LE Nonthermal","t":3.9,"v":20.2},{"panel":"c","series":"LE Nonthermal","t":3.98,"v":23.1},
{"panel":"c","series":"HE Nonthermal","t":0,"v":1.56},{"panel":"c","series":"HE Nonthermal","t":0.1,"v":1.56},{"panel":"c","series":"HE Nonthermal","t":0.2,"v":1.69},{"panel":"c","series":"HE Nonthermal","t":0.3,"v":1.75},{"panel":"c","series":"HE Nonthermal","t":0.4,"v":1.96},{"panel":"c","series":"HE Nonthermal","t":0.5,"v":2.19},{"panel":"c","series":"HE Nonthermal","t":0.6,"v":2.49},{"panel":"c","series":"HE Nonthermal","t":0.7,"v":2.69},{"panel":"c","series":"HE Nonthermal","t":0.8,"v":3.12},{"panel":"c","series":"HE Nonthermal","t":0.9,"v":3.55},{"panel":"c","series":"HE Nonthermal","t":1.0,"v":3.83},{"panel":"c","series":"HE Nonthermal","t":1.1,"v":4.21},{"panel":"c","series":"HE Nonthermal","t":1.2,"v":4.9},{"panel":"c","series":"HE Nonthermal","t":1.25,"v":5.25},{"panel":"c","series":"HE Nonthermal","t":1.32,"v":5.28},{"panel":"c","series":"HE Nonthermal","t":1.38,"v":5.1},{"panel":"c","series":"HE Nonthermal","t":1.42,"v":4.3},{"panel":"c","series":"HE Nonthermal","t":1.46,"v":2.85},{"panel":"c","series":"HE Nonthermal","t":1.525,"v":1.63},{"panel":"c","series":"HE Nonthermal","t":1.57,"v":2.2},{"panel":"c","series":"HE Nonthermal","t":1.6,"v":2.0},{"panel":"c","series":"HE Nonthermal","t":1.66,"v":2.4},{"panel":"c","series":"HE Nonthermal","t":1.72,"v":2.3},{"panel":"c","series":"HE Nonthermal","t":1.79,"v":2.96},{"panel":"c","series":"HE Nonthermal","t":1.85,"v":3.1},{"panel":"c","series":"HE Nonthermal","t":1.91,"v":3.64},{"panel":"c","series":"HE Nonthermal","t":1.95,"v":3.55},{"panel":"c","series":"HE Nonthermal","t":2.0,"v":3.9},{"panel":"c","series":"HE Nonthermal","t":2.1,"v":4.36},{"panel":"c","series":"HE Nonthermal","t":2.2,"v":5.07},{"panel":"c","series":"HE Nonthermal","t":2.3,"v":5.67},{"panel":"c","series":"HE Nonthermal","t":2.4,"v":6.45},{"panel":"c","series":"HE Nonthermal","t":2.5,"v":8.87},{"panel":"c","series":"HE Nonthermal","t":2.6,"v":10.7},{"panel":"c","series":"HE Nonthermal","t":2.7,"v":12.4},{"panel":"c","series":"HE Nonthermal","t":2.8,"v":13.9},{"panel":"c","series":"HE Nonthermal","t":2.9,"v":16.1},{"panel":"c","series":"HE Nonthermal","t":3.0,"v":18},{"panel":"c","series":"HE Nonthermal","t":3.1,"v":21.3},{"panel":"c","series":"HE Nonthermal","t":3.2,"v":23.8},{"panel":"c","series":"HE Nonthermal","t":3.3,"v":26.2},{"panel":"c","series":"HE Nonthermal","t":3.38,"v":28.2},{"panel":"c","series":"HE Nonthermal","t":3.45,"v":26.2},{"panel":"c","series":"HE Nonthermal","t":3.5,"v":26.5},{"panel":"c","series":"HE Nonthermal","t":3.6,"v":23},{"panel":"c","series":"HE Nonthermal","t":3.66,"v":24.9},{"panel":"c","series":"HE Nonthermal","t":3.73,"v":18.5},{"panel":"c","series":"HE Nonthermal","t":3.79,"v":16.2},{"panel":"c","series":"HE Nonthermal","t":3.84,"v":18.5},{"panel":"c","series":"HE Nonthermal","t":3.88,"v":17.5},{"panel":"c","series":"HE Nonthermal","t":3.93,"v":19.6},{"panel":"c","series":"HE Nonthermal","t":3.98,"v":19.8},
{"panel":"all","series":"CGL","t":0,"v":1.0},{"panel":"all","series":"CGL","t":0.1,"v":1.02},{"panel":"all","series":"CGL","t":0.2,"v":1.07},{"panel":"all","series":"CGL","t":0.31,"v":1.2},{"panel":"all","series":"CGL","t":0.45,"v":1.42},{"panel":"all","series":"CGL","t":0.645,"v":1.82},{"panel":"all","series":"CGL","t":0.8,"v":2.3},{"panel":"all","series":"CGL","t":0.98,"v":2.96},{"panel":"all","series":"CGL","t":1.15,"v":3.7},{"panel":"all","series":"CGL","t":1.32,"v":4.64},{"panel":"all","series":"CGL","t":1.45,"v":5.6},{"panel":"all","series":"CGL","t":1.59,"v":6.73},{"panel":"all","series":"CGL","t":1.8,"v":9.0},{"panel":"all","series":"CGL","t":2.0,"v":11.4},{"panel":"all","series":"CGL","t":2.3,"v":15.2},{"panel":"all","series":"CGL","t":2.65,"v":21.1},{"panel":"all","series":"CGL","t":3.0,"v":29.3},{"panel":"all","series":"CGL","t":3.32,"v":39.5},{"panel":"all","series":"CGL","t":3.66,"v":54.4},{"panel":"all","series":"CGL","t":4.0,"v":75}
]},
"hconcat":[
{"width":396,"height":390,"title":"p⊥,ₑ/p∥,ₑ",
"layer":[
{"data":{"name":"curves"},"transform":[{"filter":"datum.panel == 'a' || datum.panel == 'all'"}],
"mark":{"type":"line","strokeWidth":2.2,"clip":true},
"encoding":{
"x":{"field":"t","type":"quantitative","scale":{"domain":[0,4],"nice":false},"axis":{"values":[0,1,2,3,4],"format":"d","labelPadding":7,"title":"t · s","titleFontSize":22,"titleFontStyle":"italic","titlePadding":4}},
"y":{"field":"v","type":"quantitative","scale":{"type":"log","domain":[0.7,55],"nice":false},"axis":{"orient":"left","values":[1,10],"labelExpr":"datum.value < 5 ? '10⁰' : '10¹'","title":null}},
"color":{"field":"series","type":"nominal","scale":{"domain":["Thermal","LE Nonthermal","HE Nonthermal","CGL"],"range":["#ff0000","#008000","#0000ff","#000000"]},"legend":{"title":null}},
"strokeDash":{"field":"series","type":"nominal","scale":{"domain":["Thermal","LE Nonthermal","HE Nonthermal","CGL"],"range":[[1,0],[1,0],[1,0],[10,4.4]]},"legend":{"title":null}}}},
{"data":{"name":"notes"},"transform":[{"filter":"datum.panel == 'a' && datum.kind == 'it'"}],
"mark":{"type":"text","align":"left","baseline":"alphabetic","fontSize":20,"fontStyle":"italic","color":"black"},
"encoding":{"x":{"field":"t","type":"quantitative","axis":null},"y":{"field":"v","type":"quantitative","scale":{"type":"log","domain":[0.7,55],"nice":false},"axis":{"orient":"left","values":[0.7,0.8,0.9,2,3,4,5,6,7,8,9,20,30,40,50],"labels":false,"tickSize":2.8,"tickWidth":0.85,"domain":false,"title":null}},"text":{"field":"label"}}},
{"data":{"name":"notes"},"transform":[{"filter":"datum.panel == 'a' && datum.kind == 'sub'"}],
"mark":{"type":"text","align":"left","baseline":"alphabetic","fontSize":14,"fontStyle":"italic","color":"black"},
"encoding":{"x":{"field":"t","type":"quantitative","axis":null},"y":{"field":"v","type":"quantitative","axis":null},"text":{"field":"label"}}},
{"data":{"name":"notes"},"transform":[{"filter":"datum.panel == 'a' && datum.kind == 'num'"}],
"mark":{"type":"text","align":"left","baseline":"alphabetic","fontSize":20,"color":"black"},
"encoding":{"x":{"field":"t","type":"quantitative","axis":null},"y":{"field":"v","type":"quantitative","axis":null},"text":{"field":"label"}}},
{"data":{"name":"notes"},"transform":[{"filter":"datum.panel == 'a' && datum.kind == 'tag'"}],
"mark":{"type":"text","align":"right","baseline":"alphabetic","fontSize":22,"fontStyle":"italic","color":"black"},
"encoding":{"x":{"field":"t","type":"quantitative","axis":null},"y":{"field":"v","type":"quantitative","axis":null},"text":{"field":"label"}}}
],
"resolve":{"axis":{"x":"independent","y":"independent"}}},
{"width":396,"height":390,"title":"p⊥,ₑ/p∥,ₑ",
"layer":[
{"data":{"name":"curves"},"transform":[{"filter":"datum.panel == 'b' || datum.panel == 'all'"}],
"mark":{"type":"line","strokeWidth":2.2,"clip":true},
"encoding":{
"x":{"field":"t","type":"quantitative","scale":{"domain":[0,4],"nice":false},"axis":{"values":[0,1,2,3,4],"format":"d","labelPadding":7,"title":"t · s","titleFontSize":22,"titleFontStyle":"italic","titlePadding":4}},
"y":{"field":"v","type":"quantitative","scale":{"type":"log","domain":[0.7,55],"nice":false},"axis":{"orient":"left","values":[1,10],"labelExpr":"datum.value < 5 ? '10⁰' : '10¹'","title":null}},
"color":{"field":"series","type":"nominal","scale":{"domain":["Thermal","LE Nonthermal","HE Nonthermal","CGL"],"range":["#ff0000","#008000","#0000ff","#000000"]},"legend":{"title":null}},
"strokeDash":{"field":"series","type":"nominal","scale":{"domain":["Thermal","LE Nonthermal","HE Nonthermal","CGL"],"range":[[1,0],[1,0],[1,0],[10,4.4]]},"legend":{"title":null}}}},
{"data":{"name":"notes"},"transform":[{"filter":"datum.panel == 'b' && datum.kind == 'it'"}],
"mark":{"type":"text","align":"left","baseline":"alphabetic","fontSize":20,"fontStyle":"italic","color":"black"},
"encoding":{"x":{"field":"t","type":"quantitative","axis":null},"y":{"field":"v","type":"quantitative","scale":{"type":"log","domain":[0.7,55],"nice":false},"axis":{"orient":"left","values":[0.7,0.8,0.9,2,3,4,5,6,7,8,9,20,30,40,50],"labels":false,"tickSize":2.8,"tickWidth":0.85,"domain":false,"title":null}},"text":{"field":"label"}}},
{"data":{"name":"notes"},"transform":[{"filter":"datum.panel == 'b' && datum.kind == 'sub'"}],
"mark":{"type":"text","align":"left","baseline":"alphabetic","fontSize":14,"fontStyle":"italic","color":"black"},
"encoding":{"x":{"field":"t","type":"quantitative","axis":null},"y":{"field":"v","type":"quantitative","axis":null},"text":{"field":"label"}}},
{"data":{"name":"notes"},"transform":[{"filter":"datum.panel == 'b' && datum.kind == 'num'"}],
"mark":{"type":"text","align":"left","baseline":"alphabetic","fontSize":20,"color":"black"},
"encoding":{"x":{"field":"t","type":"quantitative","axis":null},"y":{"field":"v","type":"quantitative","axis":null},"text":{"field":"label"}}},
{"data":{"name":"notes"},"transform":[{"filter":"datum.panel == 'b' && datum.kind == 'tag'"}],
"mark":{"type":"text","align":"right","baseline":"alphabetic","fontSize":22,"fontStyle":"italic","color":"black"},
"encoding":{"x":{"field":"t","type":"quantitative","axis":null},"y":{"field":"v","type":"quantitative","axis":null},"text":{"field":"label"}}}
],
"resolve":{"axis":{"x":"independent","y":"independent"}}},
{"width":396,"height":390,"title":"p⊥,ₑ/p∥,ₑ",
"layer":[
{"data":{"name":"curves"},"transform":[{"filter":"datum.panel == 'c' || datum.panel == 'all'"}],
"mark":{"type":"line","strokeWidth":2.2,"clip":true},
"encoding":{
"x":{"field":"t","type":"quantitative","scale":{"domain":[0,4],"nice":false},"axis":{"values":[0,1,2,3,4],"format":"d","labelPadding":7,"title":"t · s","titleFontSize":22,"titleFontStyle":"italic","titlePadding":4}},
"y":{"field":"v","type":"quantitative","scale":{"type":"log","domain":[0.7,55],"nice":false},"axis":{"orient":"left","values":[1,10],"labelExpr":"datum.value < 5 ? '10⁰' : '10¹'","title":null}},
"color":{"field":"series","type":"nominal","scale":{"domain":["Thermal","LE Nonthermal","HE Nonthermal","CGL"],"range":["#ff0000","#008000","#0000ff","#000000"]},"legend":{"title":null}},
"strokeDash":{"field":"series","type":"nominal","scale":{"domain":["Thermal","LE Nonthermal","HE Nonthermal","CGL"],"range":[[1,0],[1,0],[1,0],[10,4.4]]},"legend":{"title":null}}}},
{"data":{"name":"notes"},"transform":[{"filter":"datum.panel == 'c' && datum.kind == 'it'"}],
"mark":{"type":"text","align":"left","baseline":"alphabetic","fontSize":20,"fontStyle":"italic","color":"black"},
"encoding":{"x":{"field":"t","type":"quantitative","axis":null},"y":{"field":"v","type":"quantitative","scale":{"type":"log","domain":[0.7,55],"nice":false},"axis":{"orient":"left","values":[0.7,0.8,0.9,2,3,4,5,6,7,8,9,20,30,40,50],"labels":false,"tickSize":2.8,"tickWidth":0.85,"domain":false,"title":null}},"text":{"field":"label"}}},
{"data":{"name":"notes"},"transform":[{"filter":"datum.panel == 'c' && datum.kind == 'sub'"}],
"mark":{"type":"text","align":"left","baseline":"alphabetic","fontSize":14,"fontStyle":"italic","color":"black"},
"encoding":{"x":{"field":"t","type":"quantitative","axis":null},"y":{"field":"v","type":"quantitative","axis":null},"text":{"field":"label"}}},
{"data":{"name":"notes"},"transform":[{"filter":"datum.panel == 'c' && datum.kind == 'num'"}],
"mark":{"type":"text","align":"left","baseline":"alphabetic","fontSize":20,"color":"black"},
"encoding":{"x":{"field":"t","type":"quantitative","axis":null},"y":{"field":"v","type":"quantitative","axis":null},"text":{"field":"label"}}},
{"data":{"name":"notes"},"transform":[{"filter":"datum.panel == 'c' && datum.kind == 'tag'"}],
"mark":{"type":"text","align":"right","baseline":"alphabetic","fontSize":22,"fontStyle":"italic","color":"black"},
"encoding":{"x":{"field":"t","type":"quantitative","axis":null},"y":{"field":"v","type":"quantitative","axis":null},"text":{"field":"label"}}}
],
"resolve":{"axis":{"x":"independent","y":"independent"}}}
]
}
